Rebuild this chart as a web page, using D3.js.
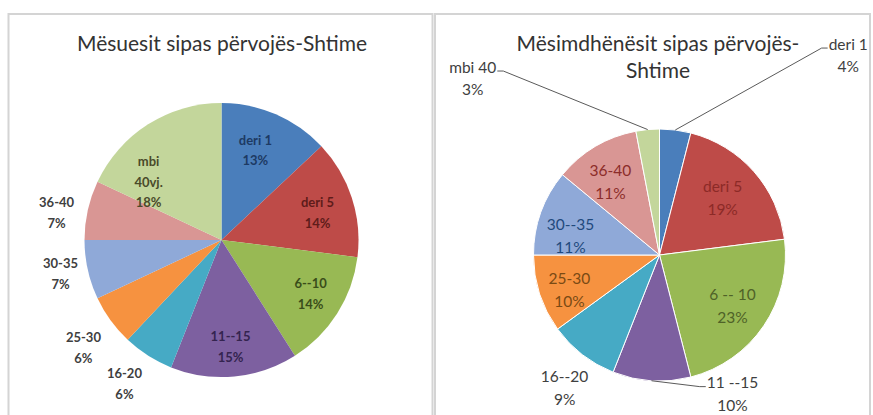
<!DOCTYPE html>
<html>
<head>
<meta charset="utf-8">
<script src="https://cdn.jsdelivr.net/npm/d3@7"></script>
<style>
  html, body { margin: 0; padding: 0; background: #ffffff; }
  svg { display: block; }
</style>
</head>
<body>
<svg id="chart" width="873" height="415"></svg>
<script>
// ---------------- DATA ----------------
const leftTitle = ["Mësuesit sipas përvojës-Shtime"];
const leftCategories = ["deri 1", "deri 5", "6--10", "11--15", "16-20", "25-30", "30-35", "36-40", "mbi\n40vj."];
const leftValues = [13, 14, 14, 15, 6, 6, 7, 7, 18];

const rightTitle = ["Mësimdhënësit sipas përvojës-", "Shtime"];
const rightCategories = ["deri 1", "deri 5", "6 -- 10", "11 --15", "16--20", "25-30", "30--35", "36-40", "mbi 40"];
const rightValues = [4, 19, 23, 10, 9, 10, 11, 11, 3];

// ---------------- STYLE / LAYOUT ----------------
const sliceColors = ["#4a7ebb", "#be4b48", "#98b954", "#7d60a0", "#46aac5", "#f69240", "#8fa9d8", "#d99694", "#c3d69b"];

const leftLabelColors = ["#1d3a63", "#5e1c1a", "#3a4d1a", "#34244f", "#404040", "#404040", "#404040", "#404040", "#4a4a2a"];
const rightLabelColors = ["#404040", "#8c2a27", "#4f6228", "#404040", "#404040", "#7a4a14", "#1f497d", "#8c2d2a", "#404040"];

// label placement: angle shift (deg) from slice mid-angle, and distance in radius units
const leftLabelShift = [-2.7, 2.3, -1.2, 0.6, 1.6, -2, 0.7, -3.3, -19.1];
const leftLabelDist  = [0.70, 0.728, 0.76, 0.784, 1.267, 1.279, 1.201, 1.22, 0.68];
const rightLabelShift = [36.2, -0.7, 0.7, -31.3, -2.3, -3.3, -7.7, -3.3, -41.2];
const rightLabelDist  = [2.18, 0.675, 0.707, 1.246, 1.297, 0.767, 0.722, 0.698, 2.04];
const rightLeaders = [true, false, false, true, false, false, false, false, true];

const svg = d3.select("#chart");
const FONT = "Lato, 'Open Sans', 'Liberation Sans', sans-serif";

// chart boxes
svg.append("rect").attr("x", 8.5).attr("y", 14).attr("width", 424).attr("height", 430)
  .attr("fill", "#fff").attr("stroke", "#d4d4d4").attr("stroke-width", 2);
svg.append("rect").attr("x", 435).attr("y", 14).attr("width", 435).attr("height", 430)
  .attr("fill", "#fff").attr("stroke", "#d4d4d4").attr("stroke-width", 2);

function drawPie(cfg) {
  const g = svg.append("g").attr("transform", `translate(${cfg.cx},${cfg.cy})`);
  const pie = d3.pie().sort(null).value(d => d.value);
  const arcs = pie(cfg.categories.map((c, i) => ({ cat: c, value: cfg.values[i], i })));
  const arc = d3.arc().innerRadius(0).outerRadius(cfg.r);

  g.selectAll("path.slice").data(arcs).join("path")
    .attr("class", "slice")
    .attr("d", arc)
    .attr("fill", d => sliceColors[d.data.i])
    .attr("stroke", cfg.stroke)
    .attr("stroke-width", cfg.strokeWidth);

  const total = d3.sum(cfg.values);
  const lineH = cfg.lineH;

  arcs.forEach(d => {
    const i = d.data.i;
    const mid = (d.startAngle + d.endAngle) / 2;
    const ang = mid + cfg.shift[i] * Math.PI / 180;
    const dist = cfg.dist[i] * cfg.r;
    const lx = Math.sin(ang) * dist;
    const ly = -Math.cos(ang) * dist;
    const pct = Math.round(d.data.value / total * 100) + "%";
    const lines = d.data.cat.split("\n").concat([pct]);
    const n = lines.length;
    const t = g.append("text")
      .attr("text-anchor", "middle")
      .attr("font-family", FONT)
      .attr("font-size", cfg.fontSize)
      .attr("font-weight", cfg.fontWeight)
      .attr("fill", cfg.labelColors[i]);
    lines.forEach((s, k) => {
      t.append("tspan").attr("x", lx)
        .attr("y", ly - (n - 1) * lineH / 2 + k * lineH + cfg.fontSize * 0.36)
        .text(s);
    });

    if (cfg.leaders && cfg.leaders[i]) {
      const bb = t.node().getBBox();
      const p0 = [Math.sin(mid) * cfg.r, -Math.cos(mid) * cfg.r];
      const firstY = ly - (n - 1) * lineH / 2 + cfg.fontSize * 0.25;
      let pts;
      if (lx >= 0) {
        const ex = bb.x - 1;
        pts = [p0, [ex - 6, firstY], [ex, firstY]];
      } else {
        const ex = bb.x + bb.width + 1;
        pts = [p0, [ex + 6, firstY], [ex, firstY]];
      }
      g.append("path")
        .attr("d", d3.line()(pts))
        .attr("fill", "none")
        .attr("stroke", "#5a5a5a")
        .attr("stroke-width", 1);
    }
  });

  // title
  const tt = svg.append("text")
    .attr("text-anchor", "middle")
    .attr("font-family", FONT)
    .attr("font-size", cfg.titleSize)
    .attr("fill", "#333333");
  cfg.title.forEach((s, k) => {
    tt.append("tspan").attr("x", cfg.titleX).attr("y", cfg.titleY + k * cfg.titleLineH).text(s);
  });
}

drawPie({
  cx: 221.5, cy: 240, r: 137,
  categories: leftCategories, values: leftValues,
  stroke: "none", strokeWidth: 0,
  shift: leftLabelShift, dist: leftLabelDist,
  labelColors: leftLabelColors,
  fontSize: 13, fontWeight: "bold", lineH: 20.5,
  title: leftTitle, titleX: 222, titleY: 51, titleSize: 21, titleLineH: 27
});

drawPie({
  cx: 659.5, cy: 255, r: 126,
  categories: rightCategories, values: rightValues,
  stroke: "#ffffff", strokeWidth: 1,
  shift: rightLabelShift, dist: rightLabelDist,
  labelColors: rightLabelColors, leaders: rightLeaders,
  fontSize: 15.5, fontWeight: "normal", lineH: 22.5,
  title: rightTitle, titleX: 658, titleY: 51, titleSize: 21, titleLineH: 27
});
</script>
</body>
</html>
